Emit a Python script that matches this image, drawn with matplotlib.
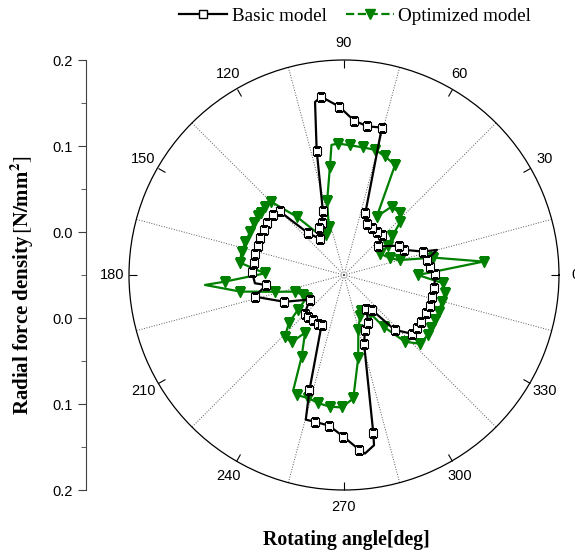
import numpy as np
import matplotlib.pyplot as plt
from matplotlib.lines import Line2D

plt.rcParams["mathtext.fontset"] = "stix"

# values (angle in deg, radial force density in N/mm^2)
basic_angle = [0.4, 5.5, 10.3, 15.1, 16.5, 22.6, 28.3, 39.6, 46.7, 53.0, 59.3, 66.0, 71.0,
               75.6, 81.1, 86.3, 91.7, 97.3, 99.5, 102.4, 108.3, 113.3, 118.5, 123.9, 130.6,
               135.3, 139.7, 145.9, 150.9, 156.0, 161.5, 166.8, 172.3, 178.3, 185.3, 187.4,
               193.6, 204.2, 215.6, 224.5, 229.4, 235.7, 242.0, 245.9, 253.3, 255.2, 258.8,
               264.3, 269.8, 275.0, 276.7, 280.0, 280.5, 286.3, 291.1, 296.7, 303.4, 308.5,
               312.8, 319.0, 324.0, 329.0, 335.0, 340.0, 345.9, 351.6]
basic_r = [0.056, 0.051, 0.048, 0.062, 0.046, 0.026, 0.022, 0.002, 0.014, 0.013, 0.013, 0.015, 0.026,
           0.127, 0.125, 0.130, 0.146, 0.159, 0.154, 0.098, 0.028, 0.016, 0.012, 0.001, 0.014,
           0.055, 0.058, 0.058, 0.057, 0.057, 0.056, 0.056, 0.056, 0.057, 0.054, 0.041,
           0.057, 0.026, -0.001, 0.014, 0.014, 0.013, 0.014, 0.014, 0.090, 0.124, 0.124,
           0.126, 0.138, 0.154, 0.159, 0.151, 0.137, 0.033, 0.018, 0.013, -0.003, 0.002,
           0.037, 0.054, 0.055, 0.055, 0.055, 0.056, 0.056, 0.056]
# line bends drawn without a symbol
basic_nomark = [15.1, 99.5, 185.3, 255.2, 276.7, 280.0]

opt_angle = [0.0, 5.5, 11.0, 15.0, 20.0, 30.5, 33.5, 38.8, 43.3, 48.0, 55.1, 60.7, 65.1,
             71.0, 76.0, 81.4, 87.4, 92.5, 95.5, 97.4, 102.9, 107.5, 114.2, 116.4, 120.2,
             129.0, 134.8, 139.2, 143.1, 145.5, 150.3, 155.3, 161.4, 167.5, 173.2, 178.8,
             183.2, 184.1, 189.1, 193.6, 198.8, 206.2, 211.5, 217.0, 221.0, 226.5, 232.0,
             236.0, 242.6, 246.2, 248.5, 253.9, 258.7, 263.9, 269.0, 274.3, 279.7, 284.6,
             291.5, 295.5, 304.2, 307.5, 312.4, 317.8, 324.6, 328.7, 333.7, 338.7, 344.7,
             349.7, 355.2]
opt_r = [0.036, 0.113, 0.056, 0.017, 0.007, -0.001, 0.012, 0.022, 0.040, 0.047, 0.047, 0.028, 0.091,
         0.096, 0.100, 0.100, 0.101, 0.103, 0.102, 0.077, 0.038, 0.009, 0.001, 0.008, 0.002,
         0.037, 0.070, 0.071, 0.070, 0.071, 0.071, 0.070, 0.071, 0.072, 0.072, 0.042,
         0.089, 0.112, 0.072, 0.033, 0.010, 0.003, 0.001, 0.017, 0.035, 0.050, 0.049,
         0.031, 0.057, 0.096, 0.100, 0.099, 0.102, 0.104, 0.104, 0.094, 0.048, 0.016,
         0.001, -0.004, 0.004, 0.026, 0.055, 0.069, 0.070, 0.069, 0.068, 0.068, 0.068,
         0.069, 0.066]
opt_nomark = [95.5, 184.1, 246.2]

theta_labels = [str(a) for a in range(0, 360, 30)]
left_ticks = [0.25, 0.15, 0.05, -0.05, -0.15, -0.25]
left_labels = ["0.2", "0.1", "0.0", "0.0", "0.1", "0.2"]

GREEN = "#008000"
sans = ["Liberation Sans", "DejaVu Sans"]
serif = ["Liberation Serif", "DejaVu Serif"]

fig = plt.figure(figsize=(5.75, 5.53), dpi=100)

ax = fig.add_axes([129/575, 63/553, 430/575, 430/553], projection="polar")
ax.set_ylim(-0.05, 0.2)
ax.set_yticks([])

def closed(a, r):
	a = np.deg2rad(np.append(a, a[0]))
	r = np.append(r, r[0])
	return a, r

ta, tr = closed(basic_angle, basic_r)
bmark = [x not in basic_nomark for x in basic_angle] + [False]
ax.plot(ta, tr, color="black", lw=1.6, marker="s", ms=5.6, mfc="white", mec="black",
        mew=0.8, markevery=bmark, zorder=4)

ta, tr = closed(opt_angle, opt_r)
omark = [x not in opt_nomark for x in opt_angle] + [False]
ax.plot(ta, tr, color=GREEN, lw=1.6, marker="v", ms=6.5, mfc=GREEN, mec=GREEN,
        markevery=omark, zorder=3)

# theta axis
ax.set_xticks(np.deg2rad(np.arange(0, 360, 30)))
ax.set_xticklabels(theta_labels, family=sans, fontsize=10.5)
ax.set_xticks(np.deg2rad(np.arange(15, 360, 30)), minor=True)
ax.xaxis.grid(False, which="major")
ax.xaxis.grid(True, which="minor", ls=":", color="0.35", lw=0.7)
ax.tick_params(axis="x", which="major", direction="in", length=6, width=0.8, pad=5,
               tick1On=False, tick2On=True)
ax.tick_params(axis="x", which="minor", length=0)
ax.spines["polar"].set_linewidth(0.9)

# left radial scale
lax = fig.add_axes([86/575, 63/553, 0.0001, 430/553])
lax.set_ylim(-0.25, 0.25)
for s in ["top", "right", "bottom"]:
	lax.spines[s].set_visible(False)
lax.spines["left"].set_color("0.25")
lax.set_xticks([])
lax.set_yticks(left_ticks)
lax.set_yticklabels(left_labels, family=sans, fontsize=10.5)
lax.set_yticks([0.2, 0.1, 0.0, -0.1, -0.2], minor=True)
lax.tick_params(axis="y", which="major", length=6, color="0.25")
lax.tick_params(axis="y", which="minor", length=3.5, color="0.25")
lax.patch.set_visible(False)

fig.text(22/575, 1 - 285/553, r"Radial force density$\,\left[\mathbf{N/mm^2}\right]$",
         rotation=90, ha="center", va="center", family=serif, fontweight="bold",
         fontsize=15)
fig.text(346/575, 1 - 540/553, "Rotating angle[deg]", ha="center", va="center",
         family=serif, fontweight="bold", fontsize=14.2)

h1 = Line2D([], [], color="black", lw=1.6, marker="s", ms=5.6, mfc="white", mec="black")
h2 = Line2D([], [], color=GREEN, lw=1.6, ls="--", marker="v", ms=6.5, mfc=GREEN, mec=GREEN)
fig.legend(handles=[h1, h2], labels=["Basic model", "Optimized model"], loc="center",
           bbox_to_anchor=(355/575, 1 - 16/553), ncol=2, frameon=False,
           prop={"family": serif, "size": 13.8}, handlelength=2.5, handletextpad=0.25,
           columnspacing=1.0)

fig.savefig("out.png", dpi=100)
